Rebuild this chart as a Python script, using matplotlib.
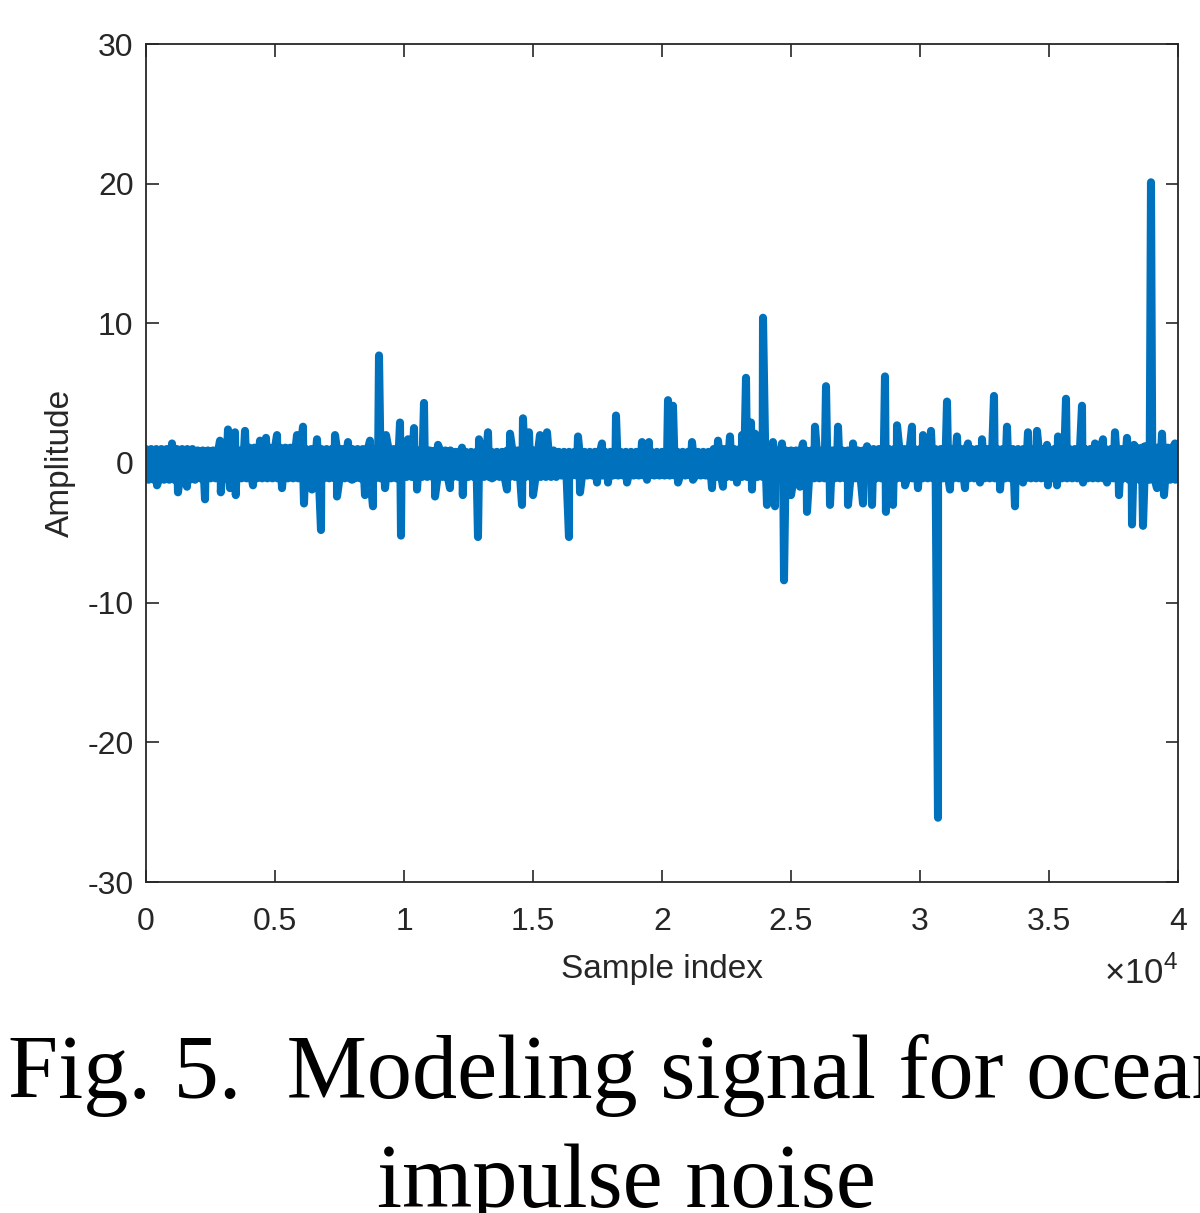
import numpy as np
import matplotlib
matplotlib.use('Agg')
import matplotlib.pyplot as plt

plt.rcParams['font.family'] = ['Liberation Sans', 'DejaVu Sans']
plt.rcParams['mathtext.fontset'] = 'custom'
plt.rcParams['mathtext.rm'] = 'Liberation Sans'

N_SAMPLES = 40000
SEG_LEN = 2000

# envelope of the dense noise band, one value per 2000 samples
band_hi = [1.0, 0.9, 1.1, 1.0, 1.0, 0.9, 0.8, 0.9, 0.8, 0.8,
           0.8, 1.0, 0.9, 0.9, 1.0, 1.0, 1.0, 1.0, 1.0, 1.1]
band_lo = [-1.2, -1.1, -1.1, -1.1, -1.1, -1.0, -1.0, -1.0, -0.9, -0.9,
           -0.9, -1.0, -1.1, -1.1, -1.1, -1.1, -1.1, -1.1, -1.1, -1.2]

# impulses
up_idx = [1008, 2868, 3178, 3450, 3837, 4419, 4651, 5078, 5853, 6085,
          6628, 7326, 7829, 8682, 9031, 9302, 9845, 10155, 10388, 10775,
          11318, 12248, 12907, 13256, 14109, 14612, 14845, 15271, 15543, 16744,
          17674, 18217, 19225, 19496, 20233, 20426, 21163, 22171, 22636, 23101,
          23256, 23450, 23605, 23915, 24302, 24651, 25465, 25930, 26357, 26822,
          27403, 27946, 28643, 29109, 29690, 30116, 30426, 31047, 31434, 31860,
          32403, 32868, 33372, 34186, 34535, 34922, 35349, 35659, 36279, 36783,
          37093, 37558, 38023, 38295, 38721, 38953, 39380, 39884]
up_val = [1.4, 1.6, 2.4, 2.2, 2.3, 1.6, 1.8, 2.0, 2.0, 2.6,
          1.7, 2.0, 1.5, 1.6, 7.7, 2.0, 2.9, 1.7, 2.5, 4.3,
          1.3, 1.1, 1.7, 2.2, 2.1, 3.2, 2.2, 2.0, 2.2, 1.9,
          1.4, 3.4, 1.5, 1.5, 4.5, 4.1, 1.5, 1.6, 1.9, 2.0,
          6.1, 2.9, 2.1, 10.4, 1.5, 1.4, 1.4, 2.6, 5.5, 2.6,
          1.4, 1.2, 6.2, 2.7, 2.6, 2.0, 2.3, 4.4, 1.9, 1.4,
          1.7, 4.8, 2.6, 2.2, 2.3, 1.3, 1.9, 4.6, 4.1, 1.4,
          1.7, 2.2, 1.8, 1.3, 1.2, 20.1, 2.1, 1.4]
dn_idx = [426, 1240, 1589, 2287, 2900, 3256, 3480, 4147, 5271, 6124,
          6434, 6783, 7403, 7984, 8488, 8798, 9264, 9884, 10504, 11202,
          11783, 12280, 12868, 13411, 13992, 14574, 15000, 16395, 16822, 17481,
          17907, 18643, 19419, 20620, 21200, 21938, 22364, 22907, 23488, 24070,
          24380, 24729, 25000, 25349, 25620, 26512, 27209, 27791, 28140, 28680,
          28953, 29419, 29922, 30698, 31163, 31744, 32326, 33101, 33682, 33992,
          34960, 35310, 36320, 37248, 37713, 38217, 38643, 39186, 39457]
dn_val = [-1.6, -2.1, -1.7, -2.6, -2.1, -1.8, -2.3, -1.6, -1.8, -2.9,
          -1.9, -4.8, -2.4, -1.2, -2.3, -3.1, -1.8, -5.2, -1.9, -2.4,
          -1.8, -2.3, -5.3, -1.1, -1.9, -3.0, -2.3, -5.3, -2.1, -1.4,
          -1.4, -1.4, -1.2, -1.4, -1.2, -1.8, -1.7, -1.4, -1.9, -3.0,
          -3.1, -8.4, -2.3, -1.7, -3.5, -3.0, -3.0, -2.9, -3.0, -3.5,
          -3.0, -1.6, -1.8, -25.4, -1.9, -1.8, -1.4, -1.9, -3.1, -1.4,
          -1.6, -1.6, -1.4, -1.4, -2.3, -4.4, -4.5, -1.8, -2.3]

xtick_vals = [0, 5000, 10000, 15000, 20000, 25000, 30000, 35000, 40000]
xtick_labels = ['0', '0.5', '1', '1.5', '2', '2.5', '3', '3.5', '4']
ytick_vals = [-30, -20, -10, 0, 10, 20, 30]
ytick_labels = ['-30', '-20', '-10', '0', '10', '20', '30']

# zig-zag the band between its envelope, then drop the impulses in
bx = np.arange(0, N_SAMPLES + 1, 100)
seg = np.minimum(bx // SEG_LEN, len(band_hi) - 1)
by = np.where((bx // 100) % 2 == 0, np.array(band_hi)[seg], np.array(band_lo)[seg])

x = np.concatenate([bx, up_idx, dn_idx])
y = np.concatenate([by, up_val, dn_val])
order = np.argsort(x, kind='stable')
x, y = x[order], y[order]

fig = plt.figure(figsize=(12, 12.13), dpi=100)
ax = fig.add_axes([146 / 1200, 1 - 882 / 1213, 1032 / 1200, 838 / 1213])
ax.plot(x, y, color='#0072BD', lw=5.8, solid_joinstyle='round', solid_capstyle='round')

ax.set_xlim(0, N_SAMPLES)
ax.set_ylim(-30, 30)
ax.set_xticks(xtick_vals)
ax.set_xticklabels(xtick_labels)
ax.set_yticks(ytick_vals)
ax.set_yticklabels(ytick_labels)
ax.tick_params(direction='in', length=9, width=1.2, color='#262626', labelcolor='#262626',
               labelsize=23, top=True, right=True)
ax.tick_params(axis='x', pad=18)
ax.tick_params(axis='y', pad=9)
for s in ax.spines.values():
    s.set_color('#262626')
    s.set_linewidth(1.3)

ax.set_xlabel('Sample index', fontsize=24, color='#262626', labelpad=12)
ax.set_ylabel('Amplitude', fontsize=24, color='#262626', labelpad=8)

fig.text(1178 / 1200, 1 - 984 / 1213, r'$\times10^{4}$', ha='right', va='baseline',
         fontsize=25, color='#262626')

fig.text(622 / 1200, 1 - 1098 / 1213, 'Fig. 5.  Modeling signal for ocean', ha='center',
         va='baseline', fontsize=65, family='Liberation Serif', color='black')
fig.text(626 / 1200, 1 - 1207 / 1213, 'impulse noise', ha='center',
         va='baseline', fontsize=65, family='Liberation Serif', color='black')

fig.savefig('out.png', dpi=100)
